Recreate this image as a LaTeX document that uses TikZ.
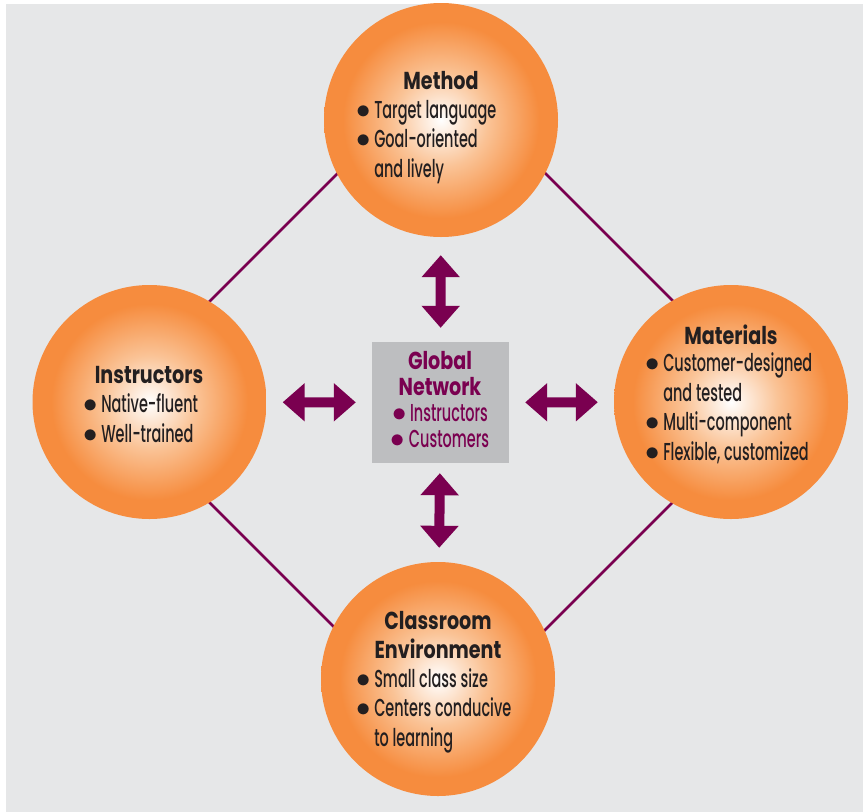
\documentclass[tikz,border=0pt]{standalone}
\usepackage{fontspec}
\setmainfont{Poppins}[UprightFont=*-Medium, BoldFont=*-Bold, FakeStretch=0.59, BoldFeatures={FakeStretch=0.78}]
\usetikzlibrary{arrows.meta,positioning}

\definecolor{plum}{RGB}{122,0,80}
\definecolor{orbedge}{RGB}{246,140,62}
\definecolor{orbmid}{RGB}{250,195,150}
\definecolor{panel}{RGB}{230,231,232}
\definecolor{hubgrey}{RGB}{189,190,192}
\definecolor{ink}{RGB}{35,31,32}
\pgfdeclareradialshading{orb}{\pgfpoint{0bp}{0bp}}{color(0bp)=(white); color(10bp)=(orbmid); color(21bp)=(orbedge); color(50bp)=(orbedge)}
\newcommand{\dotitem}{\scalebox{1.15}{$\bullet$}\ }

\tikzset{
  topic/.style={circle, minimum size=234pt, inner sep=0pt, shading=orb},
  head/.style={anchor=base, inner sep=0pt, text=ink, font=\fontsize{24.5}{29}\selectfont\bfseries},
  items/.style={anchor=base west, inner sep=0pt, align=left, text=ink, font=\fontsize{24.5}{29.5}\selectfont},
  hub/.style={fill=hubgrey, minimum width=137pt, minimum height=121pt, inner sep=0pt},
  hubtext/.style={anchor=base, align=center, inner sep=0pt, text=plum, font=\fontsize{24.5}{26}\selectfont},
  rim/.style={plum, line width=2.5pt},
  fat/.style={plum, line width=10pt, {Triangle[width=37pt,length=22pt]}-{Triangle[width=37pt,length=22pt]},
    shorten <=16pt, shorten >=16pt}
}

\begin{document}
\begin{tikzpicture}[x=1pt,y=-1pt]
\fill[white] (0,0) rectangle (863,812);
\fill[panel] (6,4) rectangle (863,812);

% frame behind the circles
\coordinate (ntop) at (441.5,69.5);
\coordinate (nleft) at (109,402);
\coordinate (nbot) at (441,734);
\coordinate (nright) at (773.5,401.5);
\draw[rim] (ntop) -- (nleft) -- (nbot) -- (nright) -- cycle;

\node[topic] (method) at (441,120) {};
\node[topic] (instr) at (149.5,402) {};
\node[topic] (mater) at (731,402) {};
\node[topic] (room) at (438,679) {};

\node[hub] (net) at (440.5,402.5) {};
\node[hubtext] (nettext) at (440,447) {\textbf{Global}\\\textbf{Network}\\\dotitem Instructors\\\dotitem Customers};

\node[head] (methodhead) at (441,89) {Method};
\node[items] (methodlist) at (356,177) {\dotitem Target language\\\dotitem Goal-oriented\\\hphantom{\dotitem}and lively};

\node[head] (instrhead) at (149,383) {Instructors};
\node[items] (instrlist) at (83,442) {\dotitem Native-fluent\\\dotitem Well-trained};

\node[head] (materhead) at (731,344) {Materials};
\node[items] (materlist) at (645,460) {\dotitem Customer-designed\\\hphantom{\dotitem}and tested\\\dotitem Multi-component\\\dotitem Flexible, customized};

\node[head] (roomhead) at (438,629) {Classroom};
\node[head] (roomhead2) at (438,658) {Environment};
\node[items] (roomlist) at (356,746) {\dotitem Small class size\\\dotitem Centers conducive\\\hphantom{\dotitem}to learning};

% arrows to the hub
\draw[fat, shorten <=14pt, shorten >=18pt] (net) -- (method);
\draw[fat] (net) -- (instr);
\draw[fat] (net) -- (mater);
\draw[fat, shorten <=10pt, shorten >=14pt] (net) -- (room);
\end{tikzpicture}
\end{document}
